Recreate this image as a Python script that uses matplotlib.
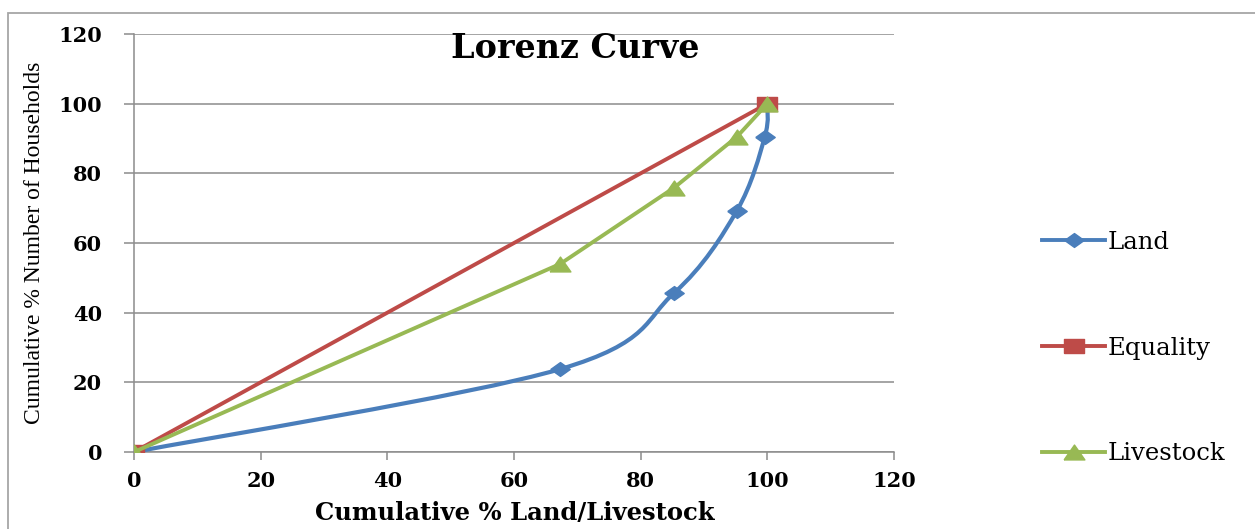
import numpy as np
import matplotlib
matplotlib.use("Agg")
import matplotlib.pyplot as plt
from matplotlib.path import Path
from matplotlib.patches import PathPatch, Rectangle
from matplotlib.lines import Line2D

# data
land_x = [0, 67.3, 85.3, 95.2, 99.6, 100]
land_y = [0, 23.8, 45.7, 69.3, 90.5, 100]
equality_x = [0, 100]
equality_y = [0, 100]
livestock_x = [0, 67.3, 85.3, 95.2, 100]
livestock_y = [0, 54.0, 75.9, 90.5, 100]

x_ticks = [0, 20, 40, 60, 80, 100, 120]
y_ticks = [0, 20, 40, 60, 80, 100, 120]

blue = '#4A7EBB'
red = '#BE4B48'
green = '#98B954'
grid_col = '#8C8C8C'

# wide markers (the original picture is stretched sideways)
diamond = [(-1.4, 0), (0, 1), (1.4, 0), (0, -1), (-1.4, 0)]
square = [(-1.4, -1), (1.4, -1), (1.4, 1), (-1.4, 1), (-1.4, -1)]
triangle = [(-1.4, -1), (1.4, -1), (0, 1), (-1.4, -1)]


def smooth_path(xs, ys, t=1 / 6):
    # Excel style smoothed line: cubic bezier segments through every point
    pts = np.column_stack([xs, ys]).astype(float)
    verts = [pts[0]]
    codes = [Path.MOVETO]
    n = len(pts)
    for i in range(n - 1):
        p0 = pts[i - 1] if i > 0 else pts[i]
        p1 = pts[i]
        p2 = pts[i + 1]
        p3 = pts[i + 2] if i + 2 < n else pts[i + 1]
        c1 = p1 + (p2 - p0) * t
        c2 = p2 - (p3 - p1) * t
        verts += [c1, c2, p2]
        codes += [Path.CURVE4] * 3
    return Path(verts, codes)


fig = plt.figure(figsize=(12.55, 5.29), dpi=100)
ax = fig.add_axes([134 / 1255, 77 / 529, 760 / 1255, 418 / 529])

# outer chart frame (only top and left edges fall inside the picture)
fig.patches.append(Rectangle((8 / 1255, -0.5), 2.0, 1.5 - 13 / 529,
                             transform=fig.transFigure, fill=False,
                             edgecolor='#A6A6A6', lw=1.3, zorder=0))

# Land: smoothed curve + diamond markers
ax.add_patch(PathPatch(smooth_path(land_x, land_y), fill=False, edgecolor=blue,
                       lw=3.0, capstyle='round', joinstyle='round', zorder=3))
ax.plot(land_x, land_y, ls='none', marker=diamond, ms=14, color=blue, zorder=4)

ax.plot(equality_x, equality_y, color=red, lw=2.8, marker=square, ms=14, zorder=5)
ax.plot(livestock_x, livestock_y, color=green, lw=2.8, marker=triangle, ms=15, zorder=6)

ax.set_xlim(0, 120)
ax.set_ylim(0, 120)
ax.set_xticks(x_ticks)
ax.set_yticks(y_ticks)

ax.grid(axis='y', color=grid_col, lw=1.1)
ax.set_axisbelow(True)
for s in ['top', 'right']:
    ax.spines[s].set_visible(False)
ax.spines['left'].set_color(grid_col)
ax.spines['bottom'].set_color(grid_col)
ax.spines['left'].set_linewidth(1.1)
ax.spines['bottom'].set_linewidth(1.1)
ax.tick_params(axis='y', length=7, width=1.1, color=grid_col, pad=16)
ax.tick_params(axis='x', length=6, width=1.1, color=grid_col, pad=8)
for lab in ax.get_xticklabels() + ax.get_yticklabels():
    lab.set_fontfamily('DejaVu Serif')
    lab.set_fontweight('bold')
    lab.set_fontsize(15)

ax.text(0.58, 0.966, 'Lorenz Curve', transform=ax.transAxes, ha='center', va='center',
        fontfamily='DejaVu Serif', fontweight='bold', fontsize=24)

fig.text(515 / 1255, 1 - 513 / 529, 'Cumulative % Land/Livestock', ha='center', va='center',
         fontfamily='DejaVu Serif', fontweight='bold', fontsize=17.5)
fig.text(35 / 1255, 1 - 243 / 529, 'Cumulative % Number of Households', ha='center', va='center',
         rotation=90, fontfamily='Liberation Serif', fontsize=17)

handles = [
    Line2D([], [], color=blue, lw=2.8, marker=diamond, ms=14),
    Line2D([], [], color=red, lw=2.8, marker=square, ms=14),
    Line2D([], [], color=green, lw=2.8, marker=triangle, ms=15),
]
fig.legend(handles, ['Land', 'Equality', 'Livestock'], loc='center left',
           bbox_to_anchor=(1042 / 1255, 1 - 348 / 529), frameon=False,
           prop={'family': 'DejaVu Serif', 'size': 17.5}, handlelength=2.6,
           handletextpad=0.1, labelspacing=3.4, borderpad=0, borderaxespad=0)

fig.savefig('out.png', dpi=100)
